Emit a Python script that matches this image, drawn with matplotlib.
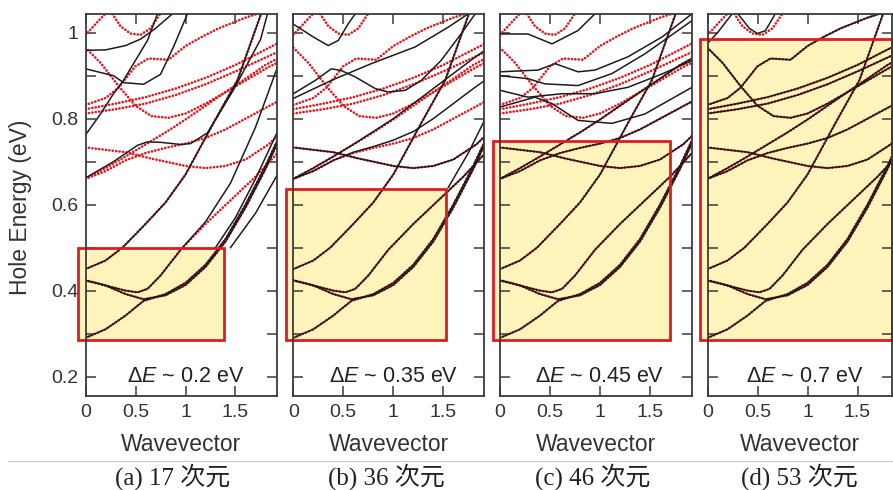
import matplotlib
matplotlib.use("Agg")
import matplotlib.pyplot as plt
from matplotlib.patches import Rectangle
from matplotlib.lines import Line2D

# ---------------- data ----------------
panel_tags = ["(a) 17 次元", "(b) 36 次元", "(c) 46 次元", "(d) 53 次元"]
delta_labels = [r"$\Delta E$ ~ 0.2 eV", r"$\Delta E$ ~ 0.35 eV",
                r"$\Delta E$ ~ 0.45 eV", r"$\Delta E$ ~ 0.7 eV"]
box_top = [0.498, 0.637, 0.749, 0.986]       # eV, upper edge of highlighted window
box_right = [1.39, 1.53, 1.70, 1.84]         # wavevector, right edge of window
box_bottom = 0.286
xtick_vals = [0, 0.5, 1, 1.5]
xtick_labels = ["0", "0.5", "1", "1.5"]
ytick_vals = [0.2, 0.4, 0.6, 0.8, 1.0]
ytick_labels = ["0.2", "0.4", "0.6", "0.8", "1"]

# reference (exact) bands: red dotted in every panel
K11 = [0, 0.2, 0.4, 0.58, 0.8, 1.0, 1.2, 1.4, 1.6, 1.8, 1.92]
band_L1 = (K11, [0.29, 0.31, 0.342, 0.376, 0.392, 0.418, 0.46, 0.52, 0.6, 0.69, 0.75])
band_L2 = (K11, [0.424, 0.412, 0.392, 0.38, 0.389, 0.413, 0.455, 0.514, 0.593, 0.683, 0.743])
band_L3 = ([0, 0.2, 0.4, 0.52, 0.62, 0.75, 0.95, 1.2, 1.45, 1.7, 1.92],
           [0.424, 0.412, 0.4, 0.396, 0.404, 0.435, 0.495, 0.555, 0.61, 0.665, 0.72])
band_C = ([0, 0.2, 0.37, 0.6, 0.8, 1.0, 1.28, 1.52, 1.75, 1.85],
          [0.45, 0.47, 0.5, 0.555, 0.605, 0.67, 0.79, 0.89, 1.04, 1.1])
band_Ra = ([0, 0.4, 0.66, 1.0, 1.2, 1.4, 1.6, 1.83, 1.92],
           [0.733, 0.722, 0.707, 0.69, 0.685, 0.69, 0.705, 0.74, 0.76])
K11b = [0, 0.2, 0.4, 0.6, 0.8, 1.0, 1.2, 1.4, 1.6, 1.8, 1.92]
band_D1 = (K11b, [0.66, 0.678, 0.703, 0.72, 0.732, 0.742, 0.755, 0.775, 0.8, 0.825, 0.84])
band_D2 = (K11b, [0.66, 0.685, 0.712, 0.74, 0.768, 0.798, 0.83, 0.862, 0.893, 0.925, 0.94])
band_R1 = ([0, 0.15, 0.33, 0.5, 0.66, 0.83, 1.0, 1.2, 1.5, 1.83, 1.92],
           [0.965, 0.93, 0.876, 0.83, 0.806, 0.802, 0.812, 0.835, 0.875, 0.92, 0.93])
band_R2 = ([0, 0.2, 0.33, 0.5, 0.63, 0.83, 1.0, 1.16, 1.33, 1.6, 1.8],
           [0.832, 0.848, 0.872, 0.922, 0.94, 0.937, 0.969, 0.99, 1.01, 1.035, 1.05])
band_R3 = ([0, 0.3, 0.6, 0.9, 1.2, 1.5, 1.92], [0.822, 0.835, 0.85, 0.87, 0.895, 0.925, 0.975])
band_R3b = ([0, 0.3, 0.6, 0.9, 1.2, 1.5, 1.92], [0.812, 0.822, 0.835, 0.855, 0.88, 0.91, 0.955])
band_U = ([0.25, 0.35, 0.45, 0.55, 0.65, 0.75], [1.05, 1.015, 0.998, 0.995, 1.01, 1.045])
band_Top = ([0, 0.1, 0.2], [0.995, 1.02, 1.045])

ref_bands = [band_L1, band_L2, band_L3, band_C, band_Ra, band_D1, band_D2,
             band_R1, band_R2, band_R3, band_R3b, band_U, band_Top]

# approximate (truncated) bands: black lines, per panel
black_a = [
    band_L1, band_L2, band_C,
    ([0, 0.2, 0.4, 0.55, 0.7, 0.85, 0.9], [0.959, 0.96, 0.97, 0.985, 1.01, 1.04, 1.05]),
    ([0, 0.28, 0.38, 0.58, 0.75, 0.88, 1.02], [0.916, 0.9, 0.884, 0.88, 0.903, 0.967, 1.044]),
    ([0, 0.15, 0.28, 0.38, 0.48, 0.62, 0.72], [0.762, 0.811, 0.858, 0.889, 0.928, 0.982, 1.044]),
    ([0, 0.28, 0.52, 0.62, 0.75, 0.95, 1.05, 1.22, 1.48, 1.75, 1.82],
     [0.662, 0.70, 0.738, 0.746, 0.745, 0.74, 0.742, 0.767, 0.867, 0.984, 1.044]),
    ([0, 0.2, 0.4, 0.52, 0.62, 0.75, 0.97, 1.2, 1.45, 1.7, 1.92],
     [0.424, 0.412, 0.4, 0.396, 0.404, 0.435, 0.5, 0.56, 0.65, 0.78, 0.92]),
    ([1.3, 1.5, 1.7, 1.92], [0.5, 0.57, 0.66, 0.77]),
    ([1.45, 1.7, 1.92], [0.5, 0.58, 0.67]),
]
black_b = [
    band_L1, band_L2, band_L3, band_C, band_Ra,
    (K11b, [0.66, 0.678, 0.703, 0.722, 0.735, 0.75, 0.77, 0.80, 0.835, 0.87, 0.89]),
    (K11b, [0.66, 0.685, 0.712, 0.74, 0.77, 0.80, 0.835, 0.87, 0.905, 0.94, 0.96]),
    ([0, 0.2, 0.35, 0.45, 0.55, 0.62], [1.02, 0.99, 0.97, 0.982, 1.021, 1.044]),
    ([0, 0.22, 0.38, 0.48, 0.62, 0.82, 0.95, 1.12, 1.28, 1.48, 1.68, 1.82],
     [0.858, 0.889, 0.916, 0.912, 0.897, 0.87, 0.862, 0.866, 0.889, 0.936, 0.998, 1.044]),
    ([0, 0.38, 0.78, 1.22, 1.55, 1.75], [0.847, 0.889, 0.928, 0.967, 1.013, 1.044]),
    ([1.55, 1.75, 1.92], [0.64, 0.72, 0.8]),
]
black_c = [
    band_L1, band_L2, band_L3, band_C, band_Ra, band_D1, band_D2,
    ([0, 0.28, 0.52, 0.78, 0.95], [0.997, 0.997, 0.974, 1.005, 1.044]),
    ([0, 0.38, 0.55, 0.78, 0.95, 1.28, 1.62, 1.92], [0.909, 0.913, 0.928, 0.909, 0.913, 0.944, 0.99, 1.044]),
    ([0, 0.28, 0.45, 0.78, 1.12, 1.45, 1.92], [0.9, 0.893, 0.881, 0.877, 0.905, 0.951, 1.028]),
    ([0, 0.28, 0.62, 0.95, 1.28, 1.62, 1.92], [0.866, 0.85, 0.858, 0.858, 0.873, 0.904, 0.935]),
    ([0, 0.35, 0.52, 0.78, 1.12, 1.45, 1.92], [0.827, 0.85, 0.835, 0.796, 0.789, 0.811, 0.873]),
]
black_d = [
    band_L1, band_L2, band_L3, band_C, band_Ra, band_D1, band_D2,
    band_R1, band_R2, band_R3, band_R3b,
    ([0.3, 0.42, 0.5, 0.58, 0.68], [1.045, 1.01, 0.998, 1.005, 1.045]),
    ([0, 0.1, 0.2, 0.25], [0.975, 1.0, 1.03, 1.045]),
]
black_sets = [black_a, black_b, black_c, black_d]

# ---------------- figure ----------------
W, H = 893, 490
fig = plt.figure(figsize=(W / 100, H / 100), dpi=100)
plt.rcParams["mathtext.fontset"] = "custom"
plt.rcParams["mathtext.rm"] = "Liberation Sans"
plt.rcParams["mathtext.it"] = "Liberation Sans:italic"

sans = "Liberation Sans"
ax_left_px = [85.5, 293.3, 500.0, 707.5]
ax_right_px = [276.7, 484.0, 691.7, 892.0]
top_px, bot_px = 14.0, 395.5
xmax = [1.912, 1.907, 1.917, 1.845]
ylo, yhi = 0.156, 1.0435
red = "#e8141c"
dark = "#1c1c1c"
spine_col = "#3a3a3a"
txt_col = "#333333"

for i in range(4):
    l = ax_left_px[i] / W
    w = (ax_right_px[i] - ax_left_px[i]) / W
    b = 1 - bot_px / H
    h = (bot_px - top_px) / H
    ax = fig.add_axes([l, b, w, h])
    ax.set_xlim(0, xmax[i])
    ax.set_ylim(ylo, yhi)

    # highlighted window
    ax.add_patch(Rectangle((-0.075, box_bottom), box_right[i] + 0.075, box_top[i] - box_bottom,
                           facecolor="#fff5bc", edgecolor="none", zorder=1, clip_on=False))
    ax.add_patch(Rectangle((-0.075, box_bottom), box_right[i] + 0.075, box_top[i] - box_bottom,
                           facecolor="none", edgecolor="#e01b24", lw=2.0, zorder=6, clip_on=False))

    for kk, ee in ref_bands:
        ax.plot(kk, ee, color=red, lw=1.9, linestyle=(0, (0.05, 1.25)),
                dash_capstyle="round", zorder=2)
    for kk, ee in black_sets[i]:
        ax.plot(kk, ee, color=dark, lw=1.1, zorder=3, solid_joinstyle="round")

    ax.set_xticks(xtick_vals)
    ax.set_yticks(ytick_vals)
    ax.set_yticks([0.3, 0.5, 0.7, 0.9], minor=True)
    ax.set_xticklabels(xtick_labels, fontsize=14, family=sans, color=txt_col)
    if i == 0:
        ax.set_yticklabels(ytick_labels, fontsize=14, family=sans, color=txt_col)
    else:
        ax.set_yticklabels([])
    ax.tick_params(which="both", direction="in", length=7.5, width=1.1,
                   top=True, right=True, color=spine_col)
    ax.tick_params(axis="x", pad=6)
    ax.tick_params(axis="y", pad=5)
    for s in ax.spines.values():
        s.set_color(spine_col)
        s.set_linewidth(1.3)
        s.set_zorder(7)

    ax.text(1.0 if i < 3 else 0.97, 0.2, delta_labels[i], ha="center", va="center",
            fontsize=15.5, family=sans, color="#222222", zorder=8)

    cx = (ax_left_px[i] + ax_right_px[i]) / 2
    fig.text(cx / W, 1 - 444 / H, "Wavevector", ha="center", va="center",
             fontsize=16.5, family=sans, color=txt_col)

fig.text(21 / W, 1 - 207 / H, "Hole Energy (eV)", rotation=90, ha="center", va="center",
         fontsize=16.5, family=sans, color=txt_col)

fig.add_artist(Line2D([8 / W, 1.0], [1 - 461 / H, 1 - 461 / H], color="#c8c8c8", lw=0.8))
caption_cx = [173, 386, 593, 799]
for i in range(4):
    fig.text(caption_cx[i] / W, 1 - 477 / H, panel_tags[i], ha="center", va="center",
             fontsize=18, family=["Liberation Serif", "Noto Sans CJK JP"], color="#222222")

fig.savefig("out.png", dpi=100)
